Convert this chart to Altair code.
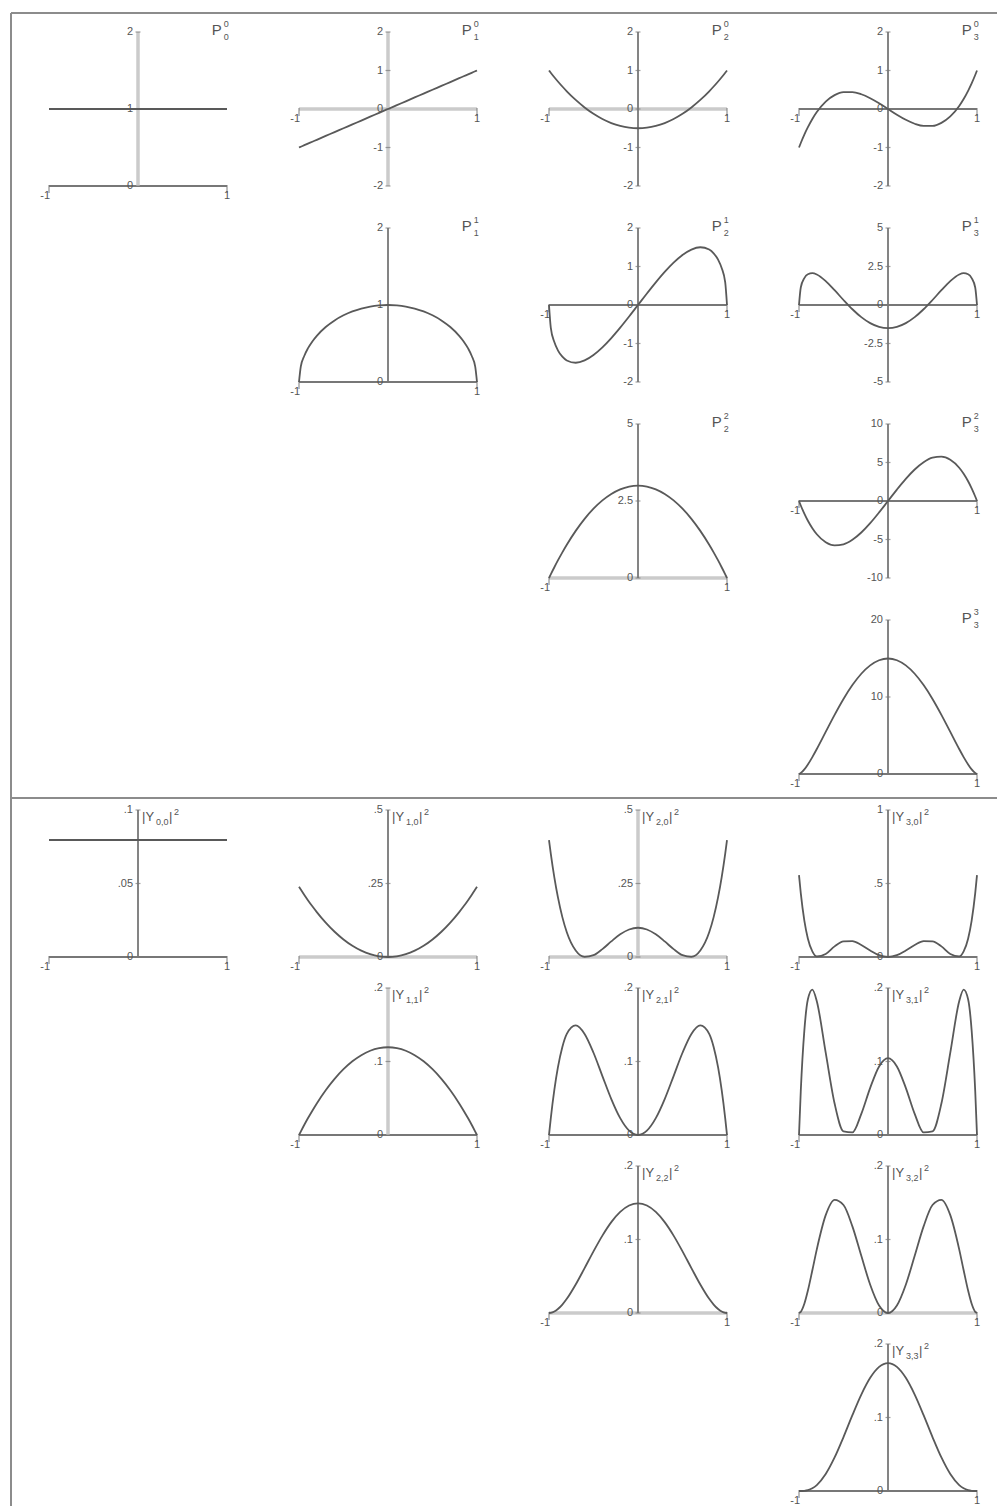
import altair as alt
import pandas as pd

# Sample abscissae (x = cos theta) shared by the curves
X = [-1, -0.98, -0.94, -0.9, -0.85, -0.8, -0.7, -0.6, -0.5, -0.4, -0.3, -0.2, -0.1, 0,
     0.1, 0.2, 0.3, 0.4, 0.5, 0.6, 0.7, 0.8, 0.85, 0.9, 0.94, 0.98, 1]
X_FLAT = [-1, 1]

# Associated Legendre functions P_l^m
P00 = [1, 1]
P10 = [-1, -0.98, -0.94, -0.9, -0.85, -0.8, -0.7, -0.6, -0.5, -0.4, -0.3, -0.2, -0.1, 0,
       0.1, 0.2, 0.3, 0.4, 0.5, 0.6, 0.7, 0.8, 0.85, 0.9, 0.94, 0.98, 1]
P20 = [1, 0.941, 0.825, 0.715, 0.584, 0.46, 0.235, 0.04, -0.125, -0.26, -0.365, -0.44, -0.485, -0.5,
       -0.485, -0.44, -0.365, -0.26, -0.125, 0.04, 0.235, 0.46, 0.584, 0.715, 0.825, 0.941, 1]
P30 = [-1, -0.883, -0.666, -0.473, -0.26, -0.08, 0.193, 0.36, 0.438, 0.44, 0.383, 0.28, 0.148, 0,
       -0.148, -0.28, -0.383, -0.44, -0.438, -0.36, -0.193, 0.08, 0.26, 0.473, 0.666, 0.883, 1]
P11 = [0, 0.199, 0.341, 0.436, 0.527, 0.6, 0.714, 0.8, 0.866, 0.917, 0.954, 0.98, 0.995, 1,
       0.995, 0.98, 0.954, 0.917, 0.866, 0.8, 0.714, 0.6, 0.527, 0.436, 0.341, 0.199, 0]
P21 = [0, -0.585, -0.962, -1.177, -1.343, -1.44, -1.5, -1.44, -1.299, -1.1, -0.859, -0.588, -0.299, 0,
       0.299, 0.588, 0.859, 1.1, 1.299, 1.44, 1.5, 1.44, 1.343, 1.177, 0.962, 0.585, 0]
P31 = [0, 1.135, 1.749, 1.994, 2.064, 1.98, 1.553, 0.96, 0.325, -0.275, -0.787, -1.176, -1.418, -1.5,
       -1.418, -1.176, -0.787, -0.275, 0.325, 0.96, 1.553, 1.98, 2.064, 1.994, 1.749, 1.135, 0]
P22 = [0, 0.119, 0.349, 0.57, 0.833, 1.08, 1.53, 1.92, 2.25, 2.52, 2.73, 2.88, 2.97, 3,
       2.97, 2.88, 2.73, 2.52, 2.25, 1.92, 1.53, 1.08, 0.833, 0.57, 0.349, 0.119, 0]
P32 = [0, -0.582, -1.641, -2.565, -3.538, -4.32, -5.355, -5.76, -5.625, -5.04, -4.095, -2.88, -1.485, 0,
       1.485, 2.88, 4.095, 5.04, 5.625, 5.76, 5.355, 4.32, 3.538, 2.565, 1.641, 0.582, 0]
P33 = [0, 0.118, 0.596, 1.242, 2.193, 3.24, 5.463, 7.68, 9.743, 11.548, 13.021, 14.109, 14.776, 15,
       14.776, 14.109, 13.021, 11.548, 9.743, 7.68, 5.463, 3.24, 2.193, 1.242, 0.596, 0.118, 0]

# Squared spherical harmonics |Y_l,m|^2
Y00 = [0.0796, 0.0796]
Y10 = [0.2387, 0.2293, 0.2109, 0.1933, 0.1725, 0.1528, 0.117, 0.0859, 0.0597, 0.0382, 0.0215, 0.0095, 0.0024, 0,
       0.0024, 0.0095, 0.0215, 0.0382, 0.0597, 0.0859, 0.117, 0.1528, 0.1725, 0.1933, 0.2109, 0.2293, 0.2387]
Y20 = [0.3979, 0.352, 0.2711, 0.2034, 0.1356, 0.0842, 0.022, 0.0006, 0.0062, 0.0269, 0.053, 0.077, 0.0936, 0.0995,
       0.0936, 0.077, 0.053, 0.0269, 0.0062, 0.0006, 0.022, 0.0842, 0.1356, 0.2034, 0.2711, 0.352, 0.3979]
Y30 = [0.557, 0.4343, 0.2474, 0.1244, 0.0377, 0.0036, 0.0206, 0.0722, 0.1066, 0.1078, 0.0815, 0.0437, 0.0121, 0,
       0.0121, 0.0437, 0.0815, 0.1078, 0.1066, 0.0722, 0.0206, 0.0036, 0.0377, 0.1244, 0.2474, 0.4343, 0.557]
Y11 = [0, 0.0047, 0.0139, 0.0227, 0.0331, 0.043, 0.0609, 0.0764, 0.0895, 0.1003, 0.1086, 0.1146, 0.1182, 0.1194,
       0.1182, 0.1146, 0.1086, 0.1003, 0.0895, 0.0764, 0.0609, 0.043, 0.0331, 0.0227, 0.0139, 0.0047, 0]
Y21 = [0, 0.0227, 0.0614, 0.0919, 0.1197, 0.1375, 0.1491, 0.1375, 0.1119, 0.0802, 0.0489, 0.0229, 0.0059, 0,
       0.0059, 0.0229, 0.0489, 0.0802, 0.1119, 0.1375, 0.1491, 0.1375, 0.1197, 0.0919, 0.0614, 0.0227, 0]
Y31 = [0, 0.0598, 0.142, 0.1846, 0.1978, 0.182, 0.112, 0.0428, 0.0049, 0.0035, 0.0288, 0.0642, 0.0933, 0.1045,
       0.0933, 0.0642, 0.0288, 0.0035, 0.0049, 0.0428, 0.112, 0.182, 0.1978, 0.1846, 0.142, 0.0598, 0]
Y22 = [0, 0.0002, 0.002, 0.0054, 0.0115, 0.0193, 0.0388, 0.0611, 0.0839, 0.1053, 0.1236, 0.1375, 0.1462, 0.1492,
       0.1462, 0.1375, 0.1236, 0.1053, 0.0839, 0.0611, 0.0388, 0.0193, 0.0115, 0.0054, 0.002, 0.0002, 0]
Y32 = [0, 0.0016, 0.0125, 0.0305, 0.0581, 0.0866, 0.1331, 0.154, 0.1469, 0.1179, 0.0778, 0.0385, 0.0102, 0,
       0.0102, 0.0385, 0.0778, 0.1179, 0.1469, 0.154, 0.1331, 0.0866, 0.0581, 0.0305, 0.0125, 0.0016, 0]
Y33 = [0, 0, 0.0003, 0.0012, 0.0037, 0.0081, 0.0231, 0.0456, 0.0734, 0.1032, 0.1312, 0.154, 0.1689, 0.1741,
       0.1689, 0.154, 0.1312, 0.1032, 0.0734, 0.0456, 0.0231, 0.0081, 0.0037, 0.0012, 0.0003, 0, 0]

# Vertical axis ranges and tick labels
TICKS_2 = [(2, "2"), (1, "1"), (0, "0"), (-1, "-1"), (-2, "-2")]
TICKS_02 = [(2, "2"), (1, "1"), (0, "0")]
TICKS_5 = [(5, "5"), (2.5, "2.5"), (0, "0"), (-2.5, "-2.5"), (-5, "-5")]
TICKS_05 = [(5, "5"), (2.5, "2.5"), (0, "0")]
TICKS_10 = [(10, "10"), (5, "5"), (0, "0"), (-5, "-5"), (-10, "-10")]
TICKS_20 = [(20, "20"), (10, "10"), (0, "0")]
TICKS_P1 = [(0.1, ".1"), (0.05, ".05"), (0, "0")]
TICKS_P5 = [(0.5, ".5"), (0.25, ".25"), (0, "0")]
TICKS_1 = [(1, "1"), (0.5, ".5"), (0, "0")]
TICKS_P2 = [(0.2, ".2"), (0.1, ".1"), (0, "0")]

# (l, m) -> (xs, ys, y-domain, ticks, light x-axis, light y-axis)
LEGENDRE = {
    (0, 0): (X_FLAT, P00, [0, 2], TICKS_02, False, True),
    (1, 0): (X, P10, [-2, 2], TICKS_2, True, True),
    (2, 0): (X, P20, [-2, 2], TICKS_2, True, False),
    (3, 0): (X, P30, [-2, 2], TICKS_2, False, False),
    (1, 1): (X, P11, [0, 2], TICKS_02, False, False),
    (2, 1): (X, P21, [-2, 2], TICKS_2, False, False),
    (3, 1): (X, P31, [-5, 5], TICKS_5, False, False),
    (2, 2): (X, P22, [0, 5], TICKS_05, True, False),
    (3, 2): (X, P32, [-10, 10], TICKS_10, False, False),
    (3, 3): (X, P33, [0, 20], TICKS_20, False, False),
}
HARMONIC = {
    (0, 0): (X_FLAT, Y00, [0, 0.1], TICKS_P1, False, False),
    (1, 0): (X, Y10, [0, 0.5], TICKS_P5, True, False),
    (2, 0): (X, Y20, [0, 0.5], TICKS_P5, True, True),
    (3, 0): (X, Y30, [0, 1], TICKS_1, False, False),
    (1, 1): (X, Y11, [0, 0.2], TICKS_P2, False, True),
    (2, 1): (X, Y21, [0, 0.2], TICKS_P2, False, False),
    (3, 1): (X, Y31, [0, 0.2], TICKS_P2, False, False),
    (2, 2): (X, Y22, [0, 0.2], TICKS_P2, True, False),
    (3, 2): (X, Y32, [0, 0.2], TICKS_P2, True, False),
    (3, 3): (X, Y33, [0, 0.2], TICKS_P2, False, False),
}

FONT = "Liberation Sans"
AXIS = "#777777"
LIGHT = "#cbcbcb"
CURVE = "#595959"
TEXT = "#555555"
FRAME = "#8c8c8c"

W = 178          # width of every small plot
PLOT_TOP = 154   # height of the axes in the upper half
PLOT_BOT = 147   # height of the axes in the lower half
GAP = 24         # vertical spacing between grid rows
# grid cell heights, row by row (the axes sit at the top of each cell)
CELL_H = [172, 172, 172, 166, 154, 154, 154, 147]


def xenc():
    return alt.X("x:Q", scale=alt.Scale(domain=[-1, 1], nice=False, zero=False), axis=None)


def yenc(dom, span):
    return alt.Y("y:Q", scale=alt.Scale(domain=dom, range=[span, 0], nice=False, zero=False), axis=None)


def txt(x, y, t):
    return alt.Chart(pd.DataFrame({"x": [x], "y": [y], "t": [t]}))


def panel(l, m, spec, kind, span, cell_h, frame=False):
    xs, ys, dom, ticks, light_x, light_y = spec
    ymin, ymax = dom
    X_, Y_ = xenc(), yenc(dom, span)
    layers = []

    # axis lines crossing at the origin
    xa = pd.DataFrame({"x": [-1], "x2": [1], "y": [0]})
    layers.append(alt.Chart(xa).mark_rule(
        color=LIGHT if light_x else AXIS, strokeWidth=3.5 if light_x else 1.8
    ).encode(x=X_, x2="x2:Q", y=Y_))
    ya = pd.DataFrame({"x": [0], "y": [ymin], "y2": [ymax]})
    layers.append(alt.Chart(ya).mark_rule(
        color=LIGHT if light_y else AXIS, strokeWidth=3.5 if light_y else 1.8
    ).encode(x=X_, y=Y_, y2="y2:Q"))

    # tick marks
    yt = pd.DataFrame({"x": [0] * len(ticks), "y": [v for v, _ in ticks], "t": [s for _, s in ticks]})
    layers.append(alt.Chart(yt).mark_tick(orient="horizontal", size=5, thickness=1.2, color=AXIS)
                  .encode(x=X_, y=Y_))
    xt = pd.DataFrame({"x": [-1, 1], "y": [0, 0]})
    layers.append(alt.Chart(xt).mark_tick(orient="vertical", size=8, thickness=1.4, color=AXIS, yOffset=3)
                  .encode(x=X_, y=Y_))

    # the curve
    cd = pd.DataFrame({"x": xs, "y": ys})
    layers.append(alt.Chart(cd).mark_line(color=CURVE, strokeWidth=1.8, interpolate="monotone")
                  .encode(x=X_, y=Y_))

    # tick labels
    layers.append(alt.Chart(yt).mark_text(align="right", baseline="middle", dx=-5, fontSize=11,
                                          font=FONT, color=TEXT)
                  .encode(x=X_, y=Y_, text="t:N"))
    layers.append(txt(-1, 0, "-1").mark_text(align="right", baseline="middle", dx=1, dy=10,
                                              fontSize=11, font=FONT, color=TEXT)
                  .encode(x=X_, y=Y_, text="t:N"))
    layers.append(txt(1, 0, "1").mark_text(align="center", baseline="middle", dy=10,
                                            fontSize=11, font=FONT, color=TEXT)
                  .encode(x=X_, y=Y_, text="t:N"))

    # panel label
    if kind == "P":
        layers.append(txt(0.83, ymax, "P").mark_text(align="left", baseline="middle", dy=-2,
                                                      fontSize=15, font=FONT, color=TEXT)
                      .encode(x=X_, y=Y_, text="t:N"))
        layers.append(txt(0.83, ymax, str(m)).mark_text(align="left", baseline="middle", dx=12,
                                                         dy=-8, fontSize=9, font=FONT, color=TEXT)
                      .encode(x=X_, y=Y_, text="t:N"))
        layers.append(txt(0.83, ymax, str(l)).mark_text(align="left", baseline="middle", dx=12,
                                                         dy=5, fontSize=9, font=FONT, color=TEXT)
                      .encode(x=X_, y=Y_, text="t:N"))
    else:
        layers.append(txt(0, ymax, "|Y").mark_text(align="left", baseline="middle", dx=4, dy=7,
                                                    fontSize=13, font=FONT, color=TEXT)
                      .encode(x=X_, y=Y_, text="t:N"))
        layers.append(txt(0, ymax, f"{l},{m}").mark_text(align="left", baseline="middle", dx=18,
                                                          dy=12, fontSize=9, font=FONT, color=TEXT)
                      .encode(x=X_, y=Y_, text="t:N"))
        layers.append(txt(0, ymax, "|").mark_text(align="left", baseline="middle", dx=31, dy=7,
                                                   fontSize=13, font=FONT, color=TEXT)
                      .encode(x=X_, y=Y_, text="t:N"))
        layers.append(txt(0, ymax, "2").mark_text(align="left", baseline="middle", dx=36, dy=2,
                                                   fontSize=9, font=FONT, color=TEXT)
                      .encode(x=X_, y=Y_, text="t:N"))

    # outer frame of the figure (left edge, top edge and the divider between the two halves)
    if frame:
        one = pd.DataFrame({"k": [0]})
        layers.append(alt.Chart(one).mark_rule(color=FRAME, strokeWidth=2)
                      .encode(x=alt.value(-38), y=alt.value(-19), y2=alt.value(1474)))
        layers.append(alt.Chart(one).mark_rule(color=FRAME, strokeWidth=2)
                      .encode(x=alt.value(-38), x2=alt.value(948), y=alt.value(-19)))
        layers.append(alt.Chart(one).mark_rule(color=FRAME, strokeWidth=2)
                      .encode(x=alt.value(-38), x2=alt.value(948), y=alt.value(766)))

    return alt.layer(*layers).properties(width=W, height=cell_h)


def blank(cell_h):
    d = pd.DataFrame({"x": [0]})
    return alt.Chart(d).mark_point(opacity=0).encode(
        x=alt.X("x:Q", axis=None), y=alt.Y("x:Q", axis=None)
    ).properties(width=W, height=cell_h)


cells = []
for half, (table, kind, span) in enumerate([(LEGENDRE, "P", PLOT_TOP), (HARMONIC, "Y", PLOT_BOT)]):
    for m in range(4):
        cell_h = CELL_H[half * 4 + m]
        for l in range(4):
            if l < m:
                cells.append(blank(cell_h))
            else:
                cells.append(panel(l, m, table[(l, m)], kind, span, cell_h,
                                   frame=(half == 0 and l == 0 and m == 0)))

chart = alt.concat(
    *cells, columns=4, spacing={"row": GAP, "column": 72}, bounds="flush"
).properties(
    padding={"left": 10, "top": 12, "right": 0, "bottom": 0},
    background="white",
).configure_view(stroke=None)

chart.save("out.html", embed_options={"renderer": "svg", "actions": False})
